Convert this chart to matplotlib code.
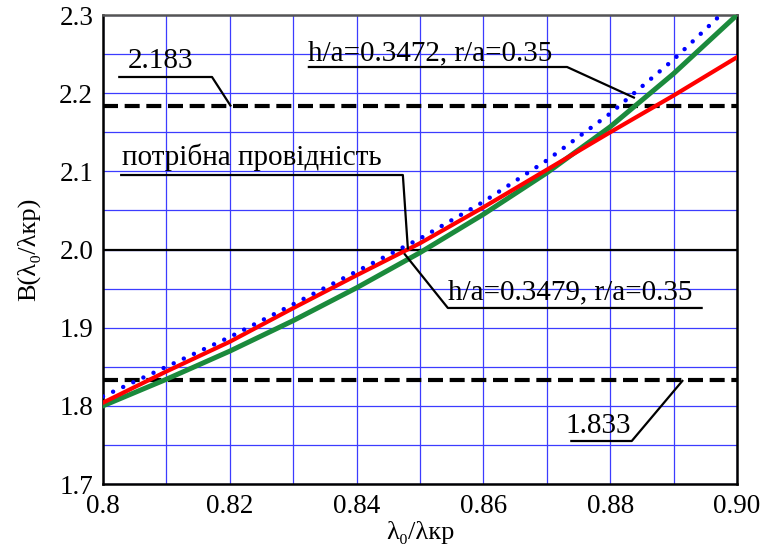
import matplotlib
matplotlib.use("Agg")
import matplotlib.pyplot as plt
from matplotlib.ticker import MultipleLocator

# Normalized wavelength and susceptance curves
lam_ratio = [0.80, 0.81, 0.82, 0.83, 0.84, 0.85, 0.86, 0.87, 0.88, 0.89, 0.90]
b_red = [1.804, 1.844, 1.882, 1.925, 1.967, 2.008, 2.054, 2.102, 2.150, 2.197, 2.246]
b_green = [1.800, 1.834, 1.870, 1.909, 1.951, 1.996, 2.045, 2.098, 2.157, 2.225, 2.300]
b_blue = [1.812, 1.850, 1.888, 1.930, 1.972, 2.014, 2.061, 2.114, 2.174, 2.243, 2.320]

b_required = 2.0
b_upper = 2.183
b_lower = 1.833

x_ticks = [0.80, 0.82, 0.84, 0.86, 0.88, 0.90]
x_tick_labels = ["0.8", "0.82", "0.84", "0.86", "0.88", "0.90"]
y_ticks = [1.7, 1.8, 1.9, 2.0, 2.1, 2.2, 2.3]
y_tick_labels = ["1.7", "1.8", "1.9", "2.0", "2.1", "2.2", "2.3"]

label_upper = "2.183"
label_lower = "1.833"
label_required = "потрібна провідність"
label_blue = "h/a=0.3472, r/a=0.35"
label_red = "h/a=0.3479, r/a=0.35"

SERIF = ["Liberation Serif", "DejaVu Serif"]
plt.rcParams["font.family"] = SERIF

fig = plt.figure(figsize=(7.73, 5.5), dpi=100)
ax = fig.add_axes([0.1332, 0.12, 0.8202, 0.8527])

grid_blue = "#3c3cff"
ax.xaxis.set_minor_locator(MultipleLocator(0.01))
ax.yaxis.set_minor_locator(MultipleLocator(0.05))
ax.grid(True, which="both", color=grid_blue, linewidth=0.9)
ax.set_axisbelow(True)

# reference levels
ax.axhline(b_upper, color="black", linewidth=3, linestyle=(0, (3.6, 1.6)), zorder=2)
ax.axhline(b_lower, color="black", linewidth=3, linestyle=(0, (3.6, 1.6)), zorder=2)
ax.axhline(b_required, color="black", linewidth=1.6, zorder=2)

# susceptance curves
ax.plot(lam_ratio, b_green, color="#1b8a3c", linewidth=3.6, zorder=3)
ax.plot(lam_ratio, b_red, color="#ff0000", linewidth=3.0, zorder=4)
ax.plot(lam_ratio, b_blue, color="#0000ff", linewidth=3.2,
        linestyle=(0, (0.01, 2.5)), dash_capstyle="round", zorder=5)

ax.set_xlim(0.8, 0.9)
ax.set_ylim(1.7, 2.3)
ax.set_xticks(x_ticks)
ax.set_xticklabels(x_tick_labels)
ax.set_yticks(y_ticks)
ax.set_yticklabels(y_tick_labels)
ax.tick_params(which="both", length=0, labelsize=19.5)
ax.tick_params(axis="x", pad=7)
ax.tick_params(axis="y", pad=7)

for side in ("left", "bottom", "right"):
    ax.spines[side].set_linewidth(1.8)
    ax.spines[side].set_color("black")
ax.spines["top"].set_linewidth(1.8)
ax.spines["top"].set_color("#555555")

ax.set_xlabel("λ₀/λкр", fontsize=19, labelpad=2)
ax.set_ylabel("B(λ₀/λкр)", fontsize=19, labelpad=14)


def callout(text, tx, ty, path):
    ax.text(tx, ty, text, fontsize=21, va="baseline", ha="left", zorder=6)
    xs, ys = zip(*path)
    ax.plot(xs, ys, color="black", linewidth=1.6, clip_on=False, zorder=6,
            solid_capstyle="butt")


callout(label_upper, 0.8039, 2.2322,
        [(0.8024, 2.2207), (0.8172, 2.2207), (0.8202, b_upper)])
callout(label_blue, 0.8323, 2.2424,
        [(0.8323, 2.2335), (0.8732, 2.2335), (0.8839, 2.1938)])
callout(label_required, 0.8030, 2.1081,
        [(0.8027, 2.0953), (0.8473, 2.0953), (0.8481, b_required)])
callout(label_red, 0.8544, 1.9367,
        [(0.8475, 1.995), (0.8544, 1.9252), (0.8946, 1.9252)])
callout(label_lower, 0.8729, 1.7653,
        [(0.8737, 1.7550), (0.8834, 1.7550), (0.8915, b_lower)])

fig.savefig("out.png", dpi=100)
